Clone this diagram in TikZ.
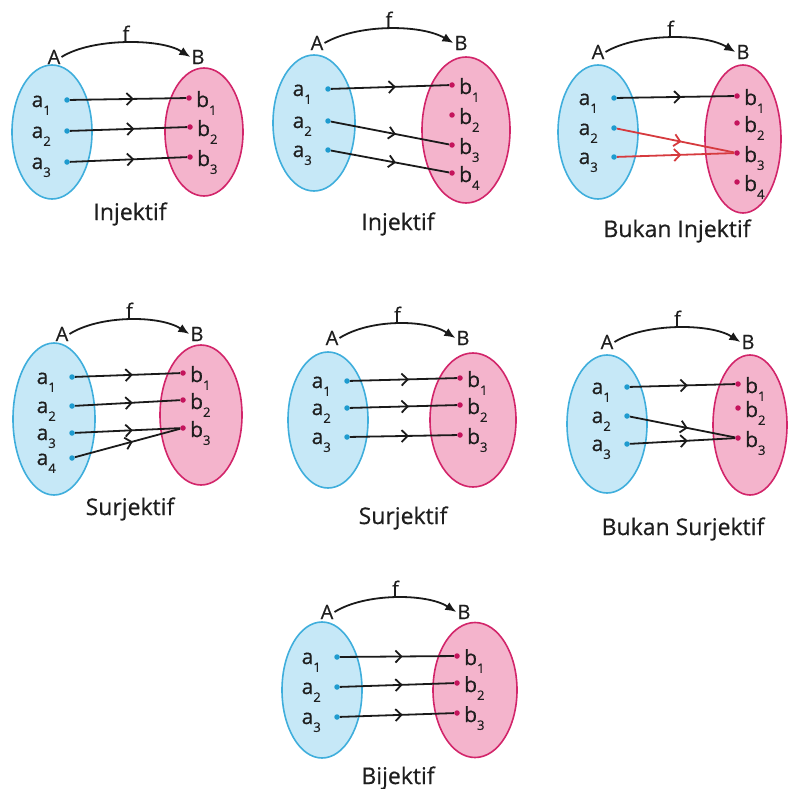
\documentclass[tikz,border=0pt]{standalone}
\usepackage{fontspec}
\setmainfont{Open Sans}[FakeBold=0.5]
\usetikzlibrary{shapes.geometric,arrows.meta,decorations.markings,calc}
\definecolor{blueF}{HTML}{C6E8F7}
\definecolor{blueE}{HTML}{3FAEDC}
\definecolor{pinkF}{HTML}{F4B4CC}
\definecolor{pinkE}{HTML}{D2256A}
\definecolor{dotA}{HTML}{1E9BCF}
\definecolor{dotB}{HTML}{C4145C}
\definecolor{lineC}{HTML}{1A1A1A}
\definecolor{redC}{HTML}{D63A3E}
\definecolor{txtC}{HTML}{1E1E1E}
\newcommand\sub[1]{\raisebox{-0.7ex}{\fontsize{13}{13}\selectfont #1}}
\tikzset{
  setA/.style={ellipse, draw=blueE, fill=blueF, line width=1.6pt, inner sep=0pt},
  setB/.style={ellipse, draw=pinkE, fill=pinkF, line width=1.6pt, inner sep=0pt},
  adot/.style={circle, fill=dotA, inner sep=0pt, minimum size=5.5pt},
  bdot/.style={circle, fill=dotB, inner sep=0pt, minimum size=5.5pt},
  alab/.style={anchor=base east, inner sep=0pt, text=txtC, font=\fontsize{21}{21}\selectfont},
  blab/.style={anchor=base west, inner sep=0pt, text=txtC, font=\fontsize{21}{21}\selectfont},
  setlab/.style={inner sep=1pt, text=txtC, font=\fontsize{20}{20}\selectfont},
  fmap/.style={-{Latex[length=11pt,width=9pt]}, line width=1.8pt, draw=lineC},
  capt/.style={inner sep=0pt, text=txtC, font=\fontsize{23}{23}\selectfont},
  maparrow/.style={line width=1.8pt, draw=#1, postaction={decorate},
    decoration={markings, mark=at position 0.55 with {\arrow[#1]{Straight Barb[length=6pt,width=12pt,line width=1.8pt]}}}},
  maparrow/.default=lineC
}
\begin{document}
\begin{tikzpicture}[x=1pt,y=-1pt]
\useasboundingbox (0,0) rectangle (788,789);
% ================= D1 =================
\node[setA, minimum width=80pt, minimum height=134pt] (SA1) at (52,132) {};
\node[setB, minimum width=78pt, minimum height=128pt] (SB1) at (204,132) {};
\node[setlab] (A1) at (54,57) {A};
\node[setlab] (B1) at (198,57) {B};
\draw[fmap] (A1.east) .. controls +(30,-19) and +(-30,-19) .. (B1.west) node[pos=0.5, above, setlab] (f1) {f};
\node[adot] (a11) at (67,100) {};
\node[adot] (a12) at (67,131) {};
\node[adot] (a13) at (67,162) {};
\node[bdot] (b11) at (189,98) {};
\node[bdot] (b12) at (190,127) {};
\node[bdot] (b13) at (190,157) {};
\node[alab] (la11) at ($(a11)+(-16,7)$) {a\sub{1}};
\node[alab] (la12) at ($(a12)+(-16,7)$) {a\sub{2}};
\node[alab] (la13) at ($(a13)+(-16,7)$) {a\sub{3}};
\node[blab] (lb11) at ($(b11)+(7,9)$) {b\sub{1}};
\node[blab] (lb12) at ($(b12)+(7,9)$) {b\sub{2}};
\node[blab] (lb13) at ($(b13)+(7,9)$) {b\sub{3}};
\draw[maparrow] (a11) -- (b11);
\draw[maparrow] (a12) -- (b12);
\draw[maparrow] (a13) -- (b13);
\node[capt] (c1) at (130,214) {Injektif};
% ================= D2 =================
\node[setA, minimum width=82pt, minimum height=136pt] (SA2) at (314,123) {};
\node[setB, minimum width=88pt, minimum height=146pt] (SB2) at (466,130) {};
\node[setlab] (A2) at (317,43) {A};
\node[setlab] (B2) at (461,43) {B};
\draw[fmap] (A2.east) .. controls +(33,-19) and +(-33,-19) .. (B2.west) node[pos=0.5, above, setlab] (f2) {f};
\node[adot] (a21) at (328,89) {};
\node[adot] (a22) at (328,121) {};
\node[adot] (a23) at (328,150) {};
\node[bdot] (b21) at (452,85) {};
\node[bdot] (b22) at (452,115) {};
\node[bdot] (b23) at (452,145) {};
\node[bdot] (b24) at (452,173) {};
\node[alab] (la21) at ($(a21)+(-16,7)$) {a\sub{1}};
\node[alab] (la22) at ($(a22)+(-16,7)$) {a\sub{2}};
\node[alab] (la23) at ($(a23)+(-16,7)$) {a\sub{3}};
\node[blab] (lb21) at ($(b21)+(7,9)$) {b\sub{1}};
\node[blab] (lb22) at ($(b22)+(7,9)$) {b\sub{2}};
\node[blab] (lb23) at ($(b23)+(7,9)$) {b\sub{3}};
\node[blab] (lb24) at ($(b24)+(7,9)$) {b\sub{4}};
\draw[maparrow] (a21) -- (b21);
\draw[maparrow] (a22) -- (b23);
\draw[maparrow] (a23) -- (b24);
\node[capt] (c2) at (398,224) {Injektif};
% ================= D3 =================
\node[setA, minimum width=80pt, minimum height=134pt] (SA3) at (598,132) {};
\node[setB, minimum width=76pt, minimum height=148pt] (SB3) at (743,139) {};
\node[setlab] (A3) at (598,52) {A};
\node[setlab] (B3) at (743,52) {B};
\draw[fmap] (A3.east) .. controls +(32,-19) and +(-32,-19) .. (B3.west) node[pos=0.5, above, setlab] (f3) {f};
\node[adot] (a31) at (614,98) {};
\node[adot] (a32) at (614,128) {};
\node[adot] (a33) at (614,157) {};
\node[bdot] (b31) at (737,96) {};
\node[bdot] (b32) at (737,123) {};
\node[bdot] (b33) at (737,153) {};
\node[bdot] (b34) at (737,182) {};
\node[alab] (la31) at ($(a31)+(-16,7)$) {a\sub{1}};
\node[alab] (la32) at ($(a32)+(-16,7)$) {a\sub{2}};
\node[alab] (la33) at ($(a33)+(-16,7)$) {a\sub{3}};
\node[blab] (lb31) at ($(b31)+(7,9)$) {b\sub{1}};
\node[blab] (lb32) at ($(b32)+(7,9)$) {b\sub{2}};
\node[blab] (lb33) at ($(b33)+(7,9)$) {b\sub{3}};
\node[blab] (lb34) at ($(b34)+(7,9)$) {b\sub{4}};
\draw[maparrow] (a31) -- (b31);
\draw[maparrow=redC] (a32) -- (b33);
\draw[maparrow=redC] (a33) -- (b33);
\node[capt] (c3) at (677,231) {Bukan Injektif};
% ================= D4 =================
\node[setA, minimum width=82pt, minimum height=152pt] (SA4) at (54,419) {};
\node[setB, minimum width=82pt, minimum height=140pt] (SB4) at (201,415) {};
\node[setlab] (A4) at (62,334) {A};
\node[setlab] (B4) at (197,334) {B};
\draw[fmap] (A4.east) .. controls +(30,-19) and +(-30,-19) .. (B4.west) node[pos=0.5, above, setlab] (f4) {f};
\node[adot] (a41) at (72,377) {};
\node[adot] (a42) at (72,406) {};
\node[adot] (a43) at (72,433) {};
\node[adot] (a44) at (72,458) {};
\node[bdot] (b41) at (183,373) {};
\node[bdot] (b42) at (183,400) {};
\node[bdot] (b43) at (183,428) {};
\node[alab] (la41) at ($(a41)+(-16,7)$) {a\sub{1}};
\node[alab] (la42) at ($(a42)+(-16,7)$) {a\sub{2}};
\node[alab] (la43) at ($(a43)+(-16,7)$) {a\sub{3}};
\node[alab] (la44) at ($(a44)+(-16,7)$) {a\sub{4}};
\node[blab] (lb41) at ($(b41)+(7,9)$) {b\sub{1}};
\node[blab] (lb42) at ($(b42)+(7,9)$) {b\sub{2}};
\node[blab] (lb43) at ($(b43)+(7,9)$) {b\sub{3}};
\draw[maparrow] (a41) -- (b41);
\draw[maparrow] (a42) -- (b42);
\draw[maparrow] (a43) -- (b43);
\draw[maparrow] (a44) -- (b43);
\node[capt] (c4) at (130,509) {Surjektif};
% ================= D5 =================
\node[setA, minimum width=80pt, minimum height=136pt] (SA5) at (328,420) {};
\node[setB, minimum width=86pt, minimum height=134pt] (SB5) at (473,420) {};
\node[setlab] (A5) at (332,338) {A};
\node[setlab] (B5) at (463,338) {B};
\draw[fmap] (A5.east) .. controls +(30,-19) and +(-30,-19) .. (B5.west) node[pos=0.5, above, setlab] (f5) {f};
\node[adot] (a51) at (347,381) {};
\node[adot] (a52) at (347,408) {};
\node[adot] (a53) at (347,437) {};
\node[bdot] (b51) at (460,378) {};
\node[bdot] (b52) at (460,405) {};
\node[bdot] (b53) at (460,435) {};
\node[alab] (la51) at ($(a51)+(-16,7)$) {a\sub{1}};
\node[alab] (la52) at ($(a52)+(-16,7)$) {a\sub{2}};
\node[alab] (la53) at ($(a53)+(-16,7)$) {a\sub{3}};
\node[blab] (lb51) at ($(b51)+(7,9)$) {b\sub{1}};
\node[blab] (lb52) at ($(b52)+(7,9)$) {b\sub{2}};
\node[blab] (lb53) at ($(b53)+(7,9)$) {b\sub{3}};
\draw[maparrow] (a51) -- (b51);
\draw[maparrow] (a52) -- (b52);
\draw[maparrow] (a53) -- (b53);
\node[capt] (c5) at (403,518) {Surjektif};
% ================= D6 =================
\node[setA, minimum width=80pt, minimum height=138pt] (SA6) at (607,424) {};
\node[setB, minimum width=74pt, minimum height=140pt] (SB6) at (750,425) {};
\node[setlab] (A6) at (607,342) {A};
\node[setlab] (B6) at (748,342) {B};
\draw[fmap] (A6.east) .. controls +(30,-19) and +(-30,-19) .. (B6.west) node[pos=0.5, above, setlab] (f6) {f};
\node[adot] (a61) at (627,387) {};
\node[adot] (a62) at (627,416) {};
\node[adot] (a63) at (627,444) {};
\node[bdot] (b61) at (738,384) {};
\node[bdot] (b62) at (738,408) {};
\node[bdot] (b63) at (738,438) {};
\node[alab] (la61) at ($(a61)+(-16,7)$) {a\sub{1}};
\node[alab] (la62) at ($(a62)+(-16,7)$) {a\sub{2}};
\node[alab] (la63) at ($(a63)+(-16,7)$) {a\sub{3}};
\node[blab] (lb61) at ($(b61)+(7,9)$) {b\sub{1}};
\node[blab] (lb62) at ($(b62)+(7,9)$) {b\sub{2}};
\node[blab] (lb63) at ($(b63)+(7,9)$) {b\sub{3}};
\draw[maparrow] (a61) -- (b61);
\draw[maparrow] (a62) -- (b63);
\draw[maparrow] (a63) -- (b63);
\node[capt] (c6) at (683,529) {Bukan Surjektif};
% ================= D7 =================
\node[setA, minimum width=80pt, minimum height=136pt] (SA7) at (322,690) {};
\node[setB, minimum width=84pt, minimum height=135pt] (SB7) at (475,690) {};
\node[setlab] (A7) at (327,612) {A};
\node[setlab] (B7) at (464,612) {B};
\draw[fmap] (A7.east) .. controls +(30,-19) and +(-30,-19) .. (B7.west) node[pos=0.5, above, setlab] (f7) {f};
\node[adot] (a71) at (337,657) {};
\node[adot] (a72) at (337,687) {};
\node[adot] (a73) at (337,717) {};
\node[bdot] (b71) at (457,656) {};
\node[bdot] (b72) at (457,683) {};
\node[bdot] (b73) at (457,713) {};
\node[alab] (la71) at ($(a71)+(-16,7)$) {a\sub{1}};
\node[alab] (la72) at ($(a72)+(-16,7)$) {a\sub{2}};
\node[alab] (la73) at ($(a73)+(-16,7)$) {a\sub{3}};
\node[blab] (lb71) at ($(b71)+(7,9)$) {b\sub{1}};
\node[blab] (lb72) at ($(b72)+(7,9)$) {b\sub{2}};
\node[blab] (lb73) at ($(b73)+(7,9)$) {b\sub{3}};
\draw[maparrow] (a71) -- (b71);
\draw[maparrow] (a72) -- (b72);
\draw[maparrow] (a73) -- (b73);
\node[capt] (c7) at (398,778) {Bijektif};
\end{tikzpicture}
\end{document}
